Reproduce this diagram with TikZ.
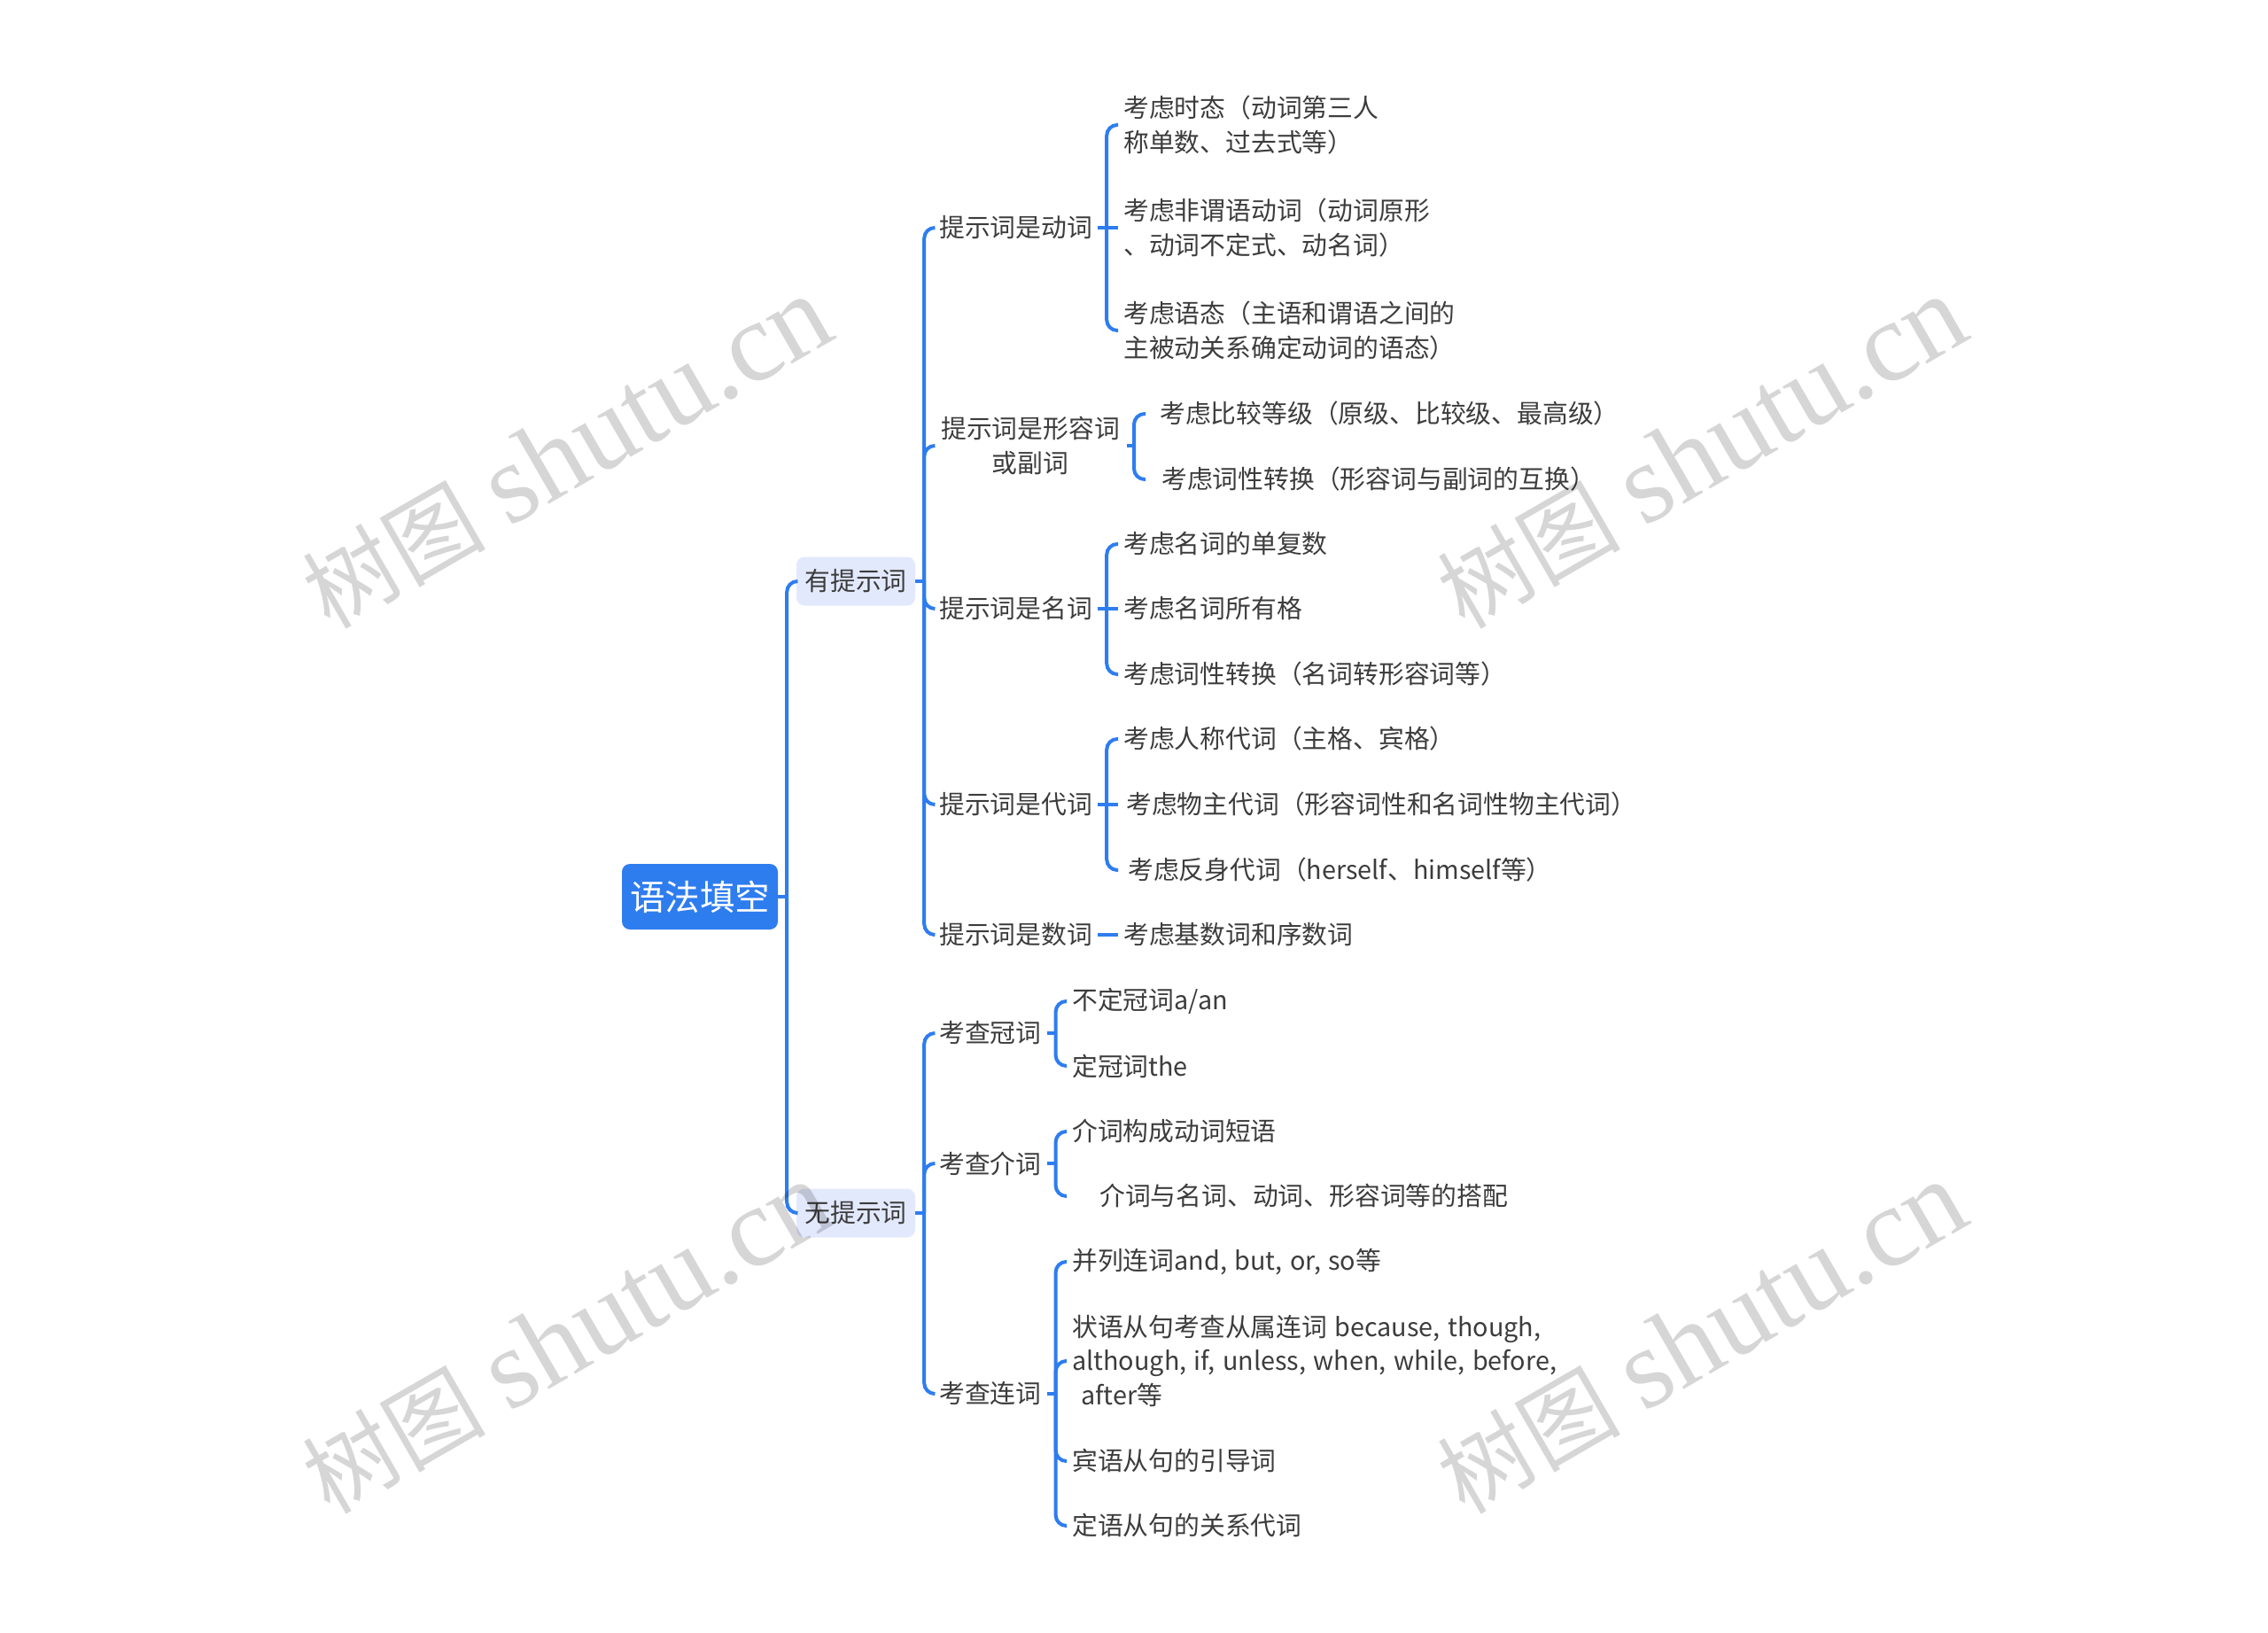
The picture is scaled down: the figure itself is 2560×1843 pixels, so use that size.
\documentclass[tikz,border=0pt]{standalone}
\usepackage{fontspec}
\usepackage{xcolor}
\usetikzlibrary{positioning}
\setmainfont{Noto Sans CJK SC}[WordSpace=1.3]
\newfontfamily\stampfont{Liberation Serif}
\newcommand{\stamptext}{{\fontsize{103}{110}\selectfont 树图}\hspace{27pt}{\stampfont shutu.cn}}
\definecolor{linkblue}{HTML}{2E7DEF}
\definecolor{palefill}{HTML}{E3E9FD}
\definecolor{inkgray}{HTML}{3C3C3C}

\begin{document}
\begin{tikzpicture}[
    x=1pt, y=-1pt,%按像素取坐标
    central/.style={
        % The shape:
        rectangle,
        minimum width=176pt,
        minimum height=74pt,
        rounded corners=9pt,
        % The fill
        fill=linkblue,
        % The fonts
        text=white,
        font=\fontsize{39.5}{46}\selectfont},
    branch/.style={
        rectangle,
        minimum width=134pt,
        minimum height=55pt,
        rounded corners=9pt,
        fill=palefill,
        text=inkgray,
        font=\fontsize{28.8}{38.5}\selectfont},
    topic/.style={
        anchor=west,
        yshift=-1pt,
        inner xsep=6pt,
        inner ysep=2pt,
        text=inkgray,
        font=\fontsize{28.8}{38.5}\selectfont},
    leaf/.style={topic,align=left},
    link/.style={
        draw=linkblue,
        line width=4pt,
        rounded corners=12pt},
    stem/.style={
        draw=linkblue,
        line width=4pt},
    stamp/.style={
        rotate=30,
        text=black,
        opacity=0.16,
        font=\fontsize{128}{130}\selectfont}]
  \useasboundingbox (0,0) rectangle (2560,1843);
  %中心和两个分支
  \node (root) [central] at (790,1012) {语法填空};
  \node (has) [branch] at (966,656) {有提示词};
  \node (none) [branch] at (966,1369) {无提示词};
  %有提示词
  \node (verb) [topic] at (1054,256) {提示词是动词};
  \node (adj) [topic,align=center,inner xsep=8pt] at (1054,502) {提示词是形容词\\或副词};
  \node (noun) [topic] at (1054,686) {提示词是名词};
  \node (pron) [topic] at (1054,907) {提示词是代词};
  \node (num) [topic] at (1054,1054) {提示词是数词};
  \node (verbA) [leaf] at (1262,140) {考虑时态（动词第三人\\称单数、过去式等）};
  \node (verbB) [leaf] at (1262,256) {考虑非谓语动词（动词原形\\、动词不定式、动名词）};
  \node (verbC) [leaf] at (1262,372) {考虑语态（主语和谓语之间的\\主被动关系确定动词的语态）};
  \node (adjA) [leaf] at (1293,466) {\hspace*{10pt}考虑比较等级（原级、比较级、最高级）};
  \node (adjB) [leaf] at (1293,540) {\hspace*{12pt}考虑词性转换（形容词与副词的互换）};
  \node (nounA) [leaf] at (1262,613) {考虑名词的单复数};
  \node (nounB) [leaf] at (1262,686) {考虑名词所有格};
  \node (nounC) [leaf] at (1262,760) {考虑词性转换（名词转形容词等）};
  \node (pronA) [leaf] at (1262,833) {考虑人称代词（主格、宾格）};
  \node (pronB) [leaf] at (1262,907) {\hspace*{3pt}考虑物主代词（形容词性和名词性物主代词）};
  \node (pronC) [leaf] at (1262,981) {\hspace*{5pt}考虑反身代词（herself、himself等）};
  \node (numA) [leaf] at (1262,1054) {考虑基数词和序数词};
  %无提示词
  \node (art) [topic] at (1054,1165) {考查冠词};
  \node (prep) [topic] at (1054,1312) {考查介词};
  \node (conj) [topic] at (1054,1572) {考查连词};
  \node (artA) [leaf] at (1204,1129) {不定冠词a/an};
  \node (artB) [leaf] at (1204,1202) {定冠词the};
  \node (prepA) [leaf] at (1204,1276) {介词构成动词短语};
  \node (prepB) [leaf] at (1204,1349) {\hspace*{31pt}介词与名词、动词、形容词等的搭配};
  \node (conjA) [leaf] at (1204,1423) {并列连词and, but, or, so等};
  \node (conjB) [leaf] at (1204,1535) {状语从句考查从属连词 because, though,\\although, if, unless, when, while, before,\\\hspace*{10pt}after等};
  \node (conjC) [leaf] at (1204,1648) {宾语从句的引导词};
  \node (conjD) [leaf] at (1204,1721) {定语从句的关系代词};
  %连线
  \draw [stem] (root.east) -- ++(10,0) coordinate (rootBar);
  \draw [link] (rootBar) |- (has.west);
  \draw [link] (rootBar) |- (none.west);
  \draw [stem] (has.east) -- ++(10,0) coordinate (hasBar);
  \draw [link] (hasBar) |- (verb.west);
  \draw [link] (hasBar) |- (adj.west);
  \draw [link] (hasBar) |- (noun.west);
  \draw [link] (hasBar) |- (pron.west);
  \draw [link] (hasBar) |- (num.west);
  \draw [stem] (none.east) -- ++(10,0) coordinate (noneBar);
  \draw [link] (noneBar) |- (art.west);
  \draw [link] (noneBar) |- (prep.west);
  \draw [link] (noneBar) |- (conj.west);
  \draw [stem] (verb.east) -- ++(10,0) coordinate (verbBar);
  \draw [link] (verbBar) |- (verbA.west);
  \draw [stem] (verbBar) -- (verbB.west);
  \draw [link] (verbBar) |- (verbC.west);
  \draw [stem] (adj.east) -- ++(8,0) coordinate (adjBar);
  \draw [link] (adjBar) |- (adjA.west);
  \draw [link] (adjBar) |- (adjB.west);
  \draw [stem] (noun.east) -- ++(10,0) coordinate (nounBar);
  \draw [link] (nounBar) |- (nounA.west);
  \draw [stem] (nounBar) -- (nounB.west);
  \draw [link] (nounBar) |- (nounC.west);
  \draw [stem] (pron.east) -- ++(10,0) coordinate (pronBar);
  \draw [link] (pronBar) |- (pronA.west);
  \draw [stem] (pronBar) -- (pronB.west);
  \draw [link] (pronBar) |- (pronC.west);
  \draw [stem] (num.east) -- (numA.west);
  \draw [stem] (art.east) -- ++(10,0) coordinate (artBar);
  \draw [link] (artBar) |- (artA.west);
  \draw [link] (artBar) |- (artB.west);
  \draw [stem] (prep.east) -- ++(10,0) coordinate (prepBar);
  \draw [link] (prepBar) |- (prepA.west);
  \draw [link] (prepBar) |- (prepB.west);
  \draw [stem] (conj.east) -- ++(10,0) coordinate (conjBar);
  \draw [link] (conjBar) |- (conjA.west);
  \draw [link] (conjBar) |- (conjB.west);
  \draw [link] (conjBar) |- (conjC.west);
  \draw [link] (conjBar) |- (conjD.west);
  %水印
  \node (stampA) [stamp] at (640,511) {\stamptext};
  \node (stampB) [stamp] at (1921,511) {\stamptext};
  \node (stampC) [stamp] at (640,1510) {\stamptext};
  \node (stampD) [stamp] at (1921,1510) {\stamptext};
\end{tikzpicture}
\end{document}
